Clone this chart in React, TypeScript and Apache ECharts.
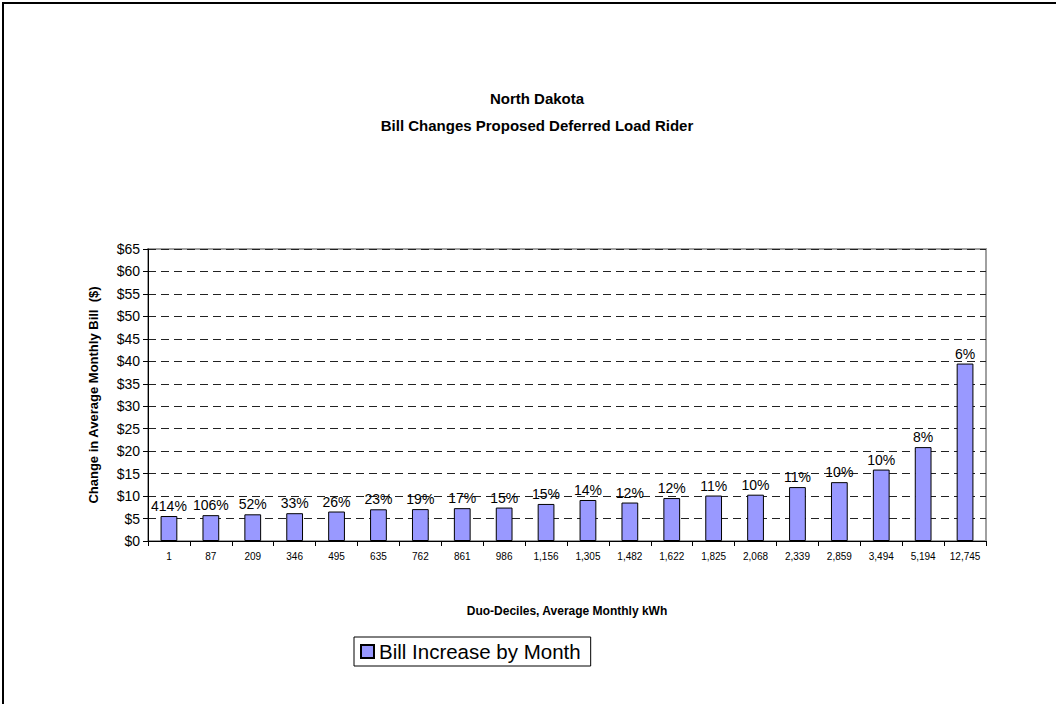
import React, { useEffect, useRef } from "react";
import * as echarts from "echarts";

const categories = ["1", "87", "209", "346", "495", "635", "762", "861", "986", "1,156", "1,305", "1,482", "1,622", "1,825", "2,068", "2,339", "2,859", "3,494", "5,194", "12,745"];
const billIncrease = [5.56, 5.75, 5.94, 6.19, 6.56, 7.06, 7.1, 7.31, 7.44, 8.25, 9.13, 8.56, 9.56, 10.12, 10.31, 12.0, 13.1, 15.9, 20.9, 39.5];
const pctLabels = ["414%", "106%", "52%", "33%", "26%", "23%", "19%", "17%", "15%", "15%", "14%", "12%", "12%", "11%", "10%", "11%", "10%", "10%", "8%", "6%"];
const yMin = 0;
const yMax = 65;
const yStep = 5;

const FONT = "Liberation Sans, Arial, sans-serif";

export default function App() {
  const ref = useRef<HTMLDivElement>(null);
  useEffect(() => {
    if (!ref.current) return;
    const chart = echarts.init(ref.current, undefined, { renderer: "svg" });
    chart.setOption({
      animation: false,
      backgroundColor: "#fff",
      textStyle: { fontFamily: FONT },
      title: {
        text: "North Dakota\nBill Changes Proposed Deferred Load Rider",
        left: 532,
        textAlign: "center",
        top: 80,
        textStyle: { fontFamily: FONT, fontSize: 15, fontWeight: "bold", color: "#000", lineHeight: 27 },
      },
      graphic: [
        {
          type: "rect",
          shape: { x: 3, y: 3, width: 1100, height: 800 },
          style: { fill: "none", stroke: "#000", lineWidth: 2 },
          silent: true,
        },
      ],
      legend: {
        left: 354,
        top: 637,
        orient: "horizontal",
        padding: [4, 10, 4, 6],
        borderColor: "#000",
        borderWidth: 1,
        itemWidth: 13,
        itemHeight: 13,
        itemGap: 6,
        icon: "rect",
        textStyle: { fontFamily: FONT, fontSize: 20.5, color: "#000" },
        data: ["Bill Increase by Month"],
      },
      grid: {
        left: 148,
        right: 70,
        top: 249,
        bottom: 163,
        show: true,
        borderColor: "#a0a0a0",
        borderWidth: 2,
        containLabel: false,
      },
      xAxis: {
        type: "category",
        data: categories,
        name: "Duo-Deciles, Average Monthly kWh",
        nameLocation: "middle",
        nameGap: 64,
        nameTextStyle: { fontFamily: FONT, fontSize: 12, fontWeight: "bold", color: "#000" },
        axisLine: { show: true, lineStyle: { color: "#000", width: 1 } },
        axisTick: { show: true, length: 5, lineStyle: { color: "#000" } },
        axisLabel: { interval: 0, fontSize: 10, color: "#000", margin: 10, fontFamily: FONT },
        splitLine: { show: false },
      },
      yAxis: {
        type: "value",
        min: yMin,
        max: yMax,
        interval: yStep,
        name: "Change in Average Monthly Bill  ($)",
        nameLocation: "middle",
        nameGap: 48,
        nameTextStyle: { fontFamily: FONT, fontSize: 13, fontWeight: "bold", color: "#000" },
        axisLine: { show: true, lineStyle: { color: "#000", width: 1 } },
        axisTick: { show: true, length: 5, lineStyle: { color: "#000" } },
        axisLabel: { fontSize: 14, color: "#000", margin: 8, fontFamily: FONT, formatter: (v: number) => "$" + v },
        splitLine: { show: true, lineStyle: { color: "#222", width: 1, type: [8, 5] } },
      },
      series: [
        {
          name: "Bill Increase by Month",
          type: "bar",
          data: billIncrease,
          barWidth: "40%",
          itemStyle: { color: "#9999FF", borderColor: "#000", borderWidth: 1 },
          label: {
            show: true,
            position: "top",
            distance: 3,
            fontSize: 14,
            color: "#000",
            fontFamily: FONT,
            formatter: (p: any) => pctLabels[p.dataIndex],
          },
        },
      ],
    });
    return () => chart.dispose();
  }, []);
  return <div ref={ref} style={{ position: "fixed", left: 0, top: 0, width: 1056, height: 704 }} />;
}
